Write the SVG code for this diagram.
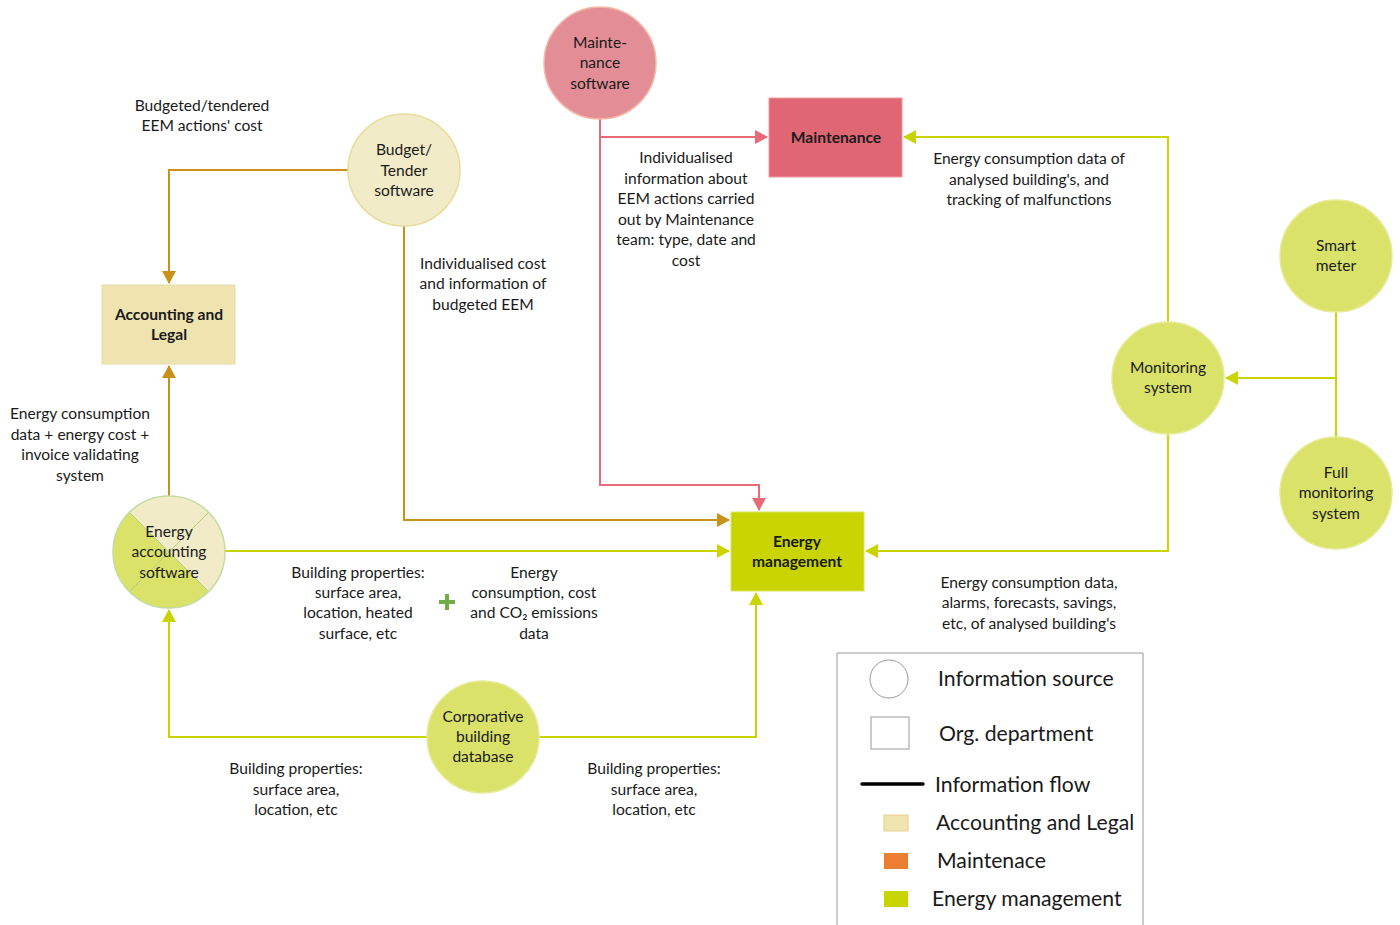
<svg xmlns="http://www.w3.org/2000/svg" width="1400" height="925" viewBox="0 0 1400 925">
<style>
text{font-family:Lato,"Liberation Sans",sans-serif;font-size:15.6px;fill:#1a1a1a;text-anchor:middle}
.b{font-weight:bold}
.lg{font-size:21.2px;text-anchor:start}
.src{stroke-width:1.5}
.gl{fill:none;stroke:#c8921a;stroke-width:2}
.pk{fill:none;stroke:#e86a78;stroke-width:2}
.yg{fill:none;stroke:#c9d400;stroke-width:2}
</style>
<defs>
<marker id="ag" markerWidth="14" markerHeight="14" refX="12" refY="7" orient="auto" markerUnits="userSpaceOnUse"><path d="M0,0 L13,7 L0,14 z" fill="#c8921a"/></marker>
<marker id="ap" markerWidth="14" markerHeight="14" refX="12" refY="7" orient="auto" markerUnits="userSpaceOnUse"><path d="M0,0 L13,7 L0,14 z" fill="#e86a78"/></marker>
<marker id="ay" markerWidth="14" markerHeight="14" refX="12" refY="7" orient="auto" markerUnits="userSpaceOnUse"><path d="M0,0 L13,7 L0,14 z" fill="#c9d400"/></marker>
</defs>
<rect width="1400" height="925" fill="#fff"/>
<g id="connectors">
<path class="gl" d="M348,170 H169 V283" marker-end="url(#ag)"/>
<path class="gl" d="M404,226 V520 H729" marker-end="url(#ag)"/>
<path class="gl" d="M169,496 V366" marker-end="url(#ag)"/>
<path class="pk" d="M600,119 V485 H759 V510" marker-end="url(#ap)"/>
<path class="pk" d="M600,137 H767" marker-end="url(#ap)"/>
<path class="yg" d="M1168,322 V137 H904" marker-end="url(#ay)"/>
<path class="yg" d="M1168,434 V551 H866" marker-end="url(#ay)"/>
<path class="yg" d="M1336,312 V437"/>
<path class="yg" d="M1336,378 H1226" marker-end="url(#ay)"/>
<path class="yg" d="M225,551 H729" marker-end="url(#ay)"/>
<path class="yg" d="M427,737 H169 V610" marker-end="url(#ay)"/>
<path class="yg" d="M539,737 H756 V593" marker-end="url(#ay)"/>
</g>
<g id="maintenance-software">
<circle cx="600" cy="63" r="56" fill="#e38e96" stroke="#f4b8a8" class="src"/>
<text x="600" y="48">Mainte-</text><text x="600" y="68">nance</text><text x="600" y="89">software</text>
</g>
<g id="budget-software">
<circle cx="404" cy="170" r="56" fill="#f2ebc8" stroke="#e8dc9e" class="src"/>
<text x="404" y="155">Budget/</text><text x="404" y="176">Tender</text><text x="404" y="196">software</text>
</g>
<g id="smart-meter">
<circle cx="1336" cy="256" r="56" fill="#dbe26a" stroke="#e6eb9a" class="src"/>
<text x="1336" y="251">Smart</text><text x="1336" y="271">meter</text>
</g>
<g id="monitoring-system">
<circle cx="1168" cy="378" r="56" fill="#dbe26a" stroke="#e6eb9a" class="src"/>
<text x="1168" y="373">Monitoring</text><text x="1168" y="393">system</text>
</g>
<g id="full-monitoring">
<circle cx="1336" cy="493" r="56" fill="#dbe26a" stroke="#e6eb9a" class="src"/>
<text x="1336" y="478">Full</text><text x="1336" y="498">monitoring</text><text x="1336" y="519">system</text>
</g>
<g id="energy-accounting-software">
<path d="M169,552 L129.4,512.4 A56,56 0 0 1 208.6,512.4 Z" fill="#f2ebc8"/>
<path d="M169,552 L208.6,512.4 A56,56 0 0 1 208.6,591.6 Z" fill="#f2ebc8"/>
<path d="M169,552 L208.6,591.6 A56,56 0 0 1 129.4,591.6 Z" fill="#dbe26a"/>
<path d="M169,552 L129.4,591.6 A56,56 0 0 1 129.4,512.4 Z" fill="#dbe26a"/>
<path d="M129.4,512.4 L208.6,591.6 M129.4,591.6 L208.6,512.4" stroke="#b5cf7a" stroke-width="1"/>
<circle cx="169" cy="552" r="56" fill="none" stroke="#c5dca0" class="src"/>
<text x="169" y="537">Energy</text><text x="169" y="557">accounting</text><text x="169" y="578">software</text>
</g>
<g id="corporative-db">
<circle cx="483" cy="737" r="56" fill="#dbe26a" stroke="#e6eb9a" class="src"/>
<text x="483" y="722">Corporative</text><text x="483" y="742">building</text><text x="483" y="762">database</text>
</g>
<g id="maintenance">
<rect x="769" y="98" width="133" height="79" fill="#e06674" stroke="#eb9aa2" stroke-width="1"/>
<text x="836" y="143" class="b">Maintenance</text>
</g>
<g id="accounting-legal">
<rect x="102" y="285" width="133" height="79" fill="#efe4b0" stroke="#e6dca8" stroke-width="1"/>
<text x="169" y="320" class="b">Accounting and</text><text x="169" y="340" class="b">Legal</text>
</g>
<g id="energy-management">
<rect x="731" y="512" width="133" height="79" fill="#c9d400" stroke="#dbe26a" stroke-width="1"/>
<text x="797" y="547" class="b">Energy</text><text x="797" y="567" class="b">management</text>
</g>
<g id="labels">
<text x="202" y="111">Budgeted/tendered</text><text x="202" y="131">EEM actions' cost</text>
<text x="483" y="269">Individualised cost</text><text x="483" y="289">and information of</text><text x="483" y="310">budgeted EEM</text>
<text x="686" y="163">Individualised</text><text x="686" y="184">information about</text><text x="686" y="204">EEM actions carried</text><text x="686" y="225">out by Maintenance</text><text x="686" y="245">team: type, date and</text><text x="686" y="266">cost</text>
<text x="1029" y="164">Energy consumption data of</text><text x="1029" y="185">analysed building's, and</text><text x="1029" y="205">tracking of malfunctions</text>
<text x="80" y="419">Energy consumption</text><text x="80" y="440">data + energy cost +</text><text x="80" y="460">invoice validating</text><text x="80" y="481">system</text>
<text x="358" y="578">Building properties:</text><text x="358" y="598">surface area,</text><text x="358" y="618">location, heated</text><text x="358" y="639">surface, etc</text>
<path d="M447,594 V610 M439,602 H455" stroke="#70ad47" stroke-width="4"/>
<text x="534" y="578">Energy</text><text x="534" y="598">consumption, cost</text><text x="534" y="618">and CO₂ emissions</text><text x="534" y="639">data</text>
<text x="1029" y="588">Energy consumption data,</text><text x="1029" y="608">alarms, forecasts, savings,</text><text x="1029" y="629">etc, of analysed building's</text>
<text x="296" y="774">Building properties:</text><text x="296" y="795">surface area,</text><text x="296" y="815">location, etc</text>
<text x="654" y="774">Building properties:</text><text x="654" y="795">surface area,</text><text x="654" y="815">location, etc</text>
</g>
<g id="legend">
<path d="M837,925 V653 H1143 V925" fill="none" stroke="#999" stroke-width="1"/>
<circle cx="889" cy="679" r="19" fill="#fff" stroke="#999" stroke-width="1"/>
<rect x="871" y="717" width="38" height="32" fill="#fff" stroke="#999" stroke-width="1"/>
<line x1="862" y1="784" x2="923" y2="784" stroke="#000" stroke-width="3.5" stroke-linecap="round"/>
<rect x="884" y="815" width="24" height="16" fill="#efe4b0" stroke="#e6d28a" stroke-width="1"/>
<rect x="884" y="853" width="24" height="16" fill="#ed7d31"/>
<rect x="884" y="891" width="24" height="16" fill="#c9d400"/>
<text x="938" y="686" class="lg">Information source</text>
<text x="939" y="741" class="lg">Org. department</text>
<text x="935" y="792" class="lg">Information flow</text>
<text x="936" y="830" class="lg">Accounting and Legal</text>
<text x="937" y="868" class="lg">Maintenace</text>
<text x="932" y="906" class="lg">Energy management</text>
</g>
</svg>
